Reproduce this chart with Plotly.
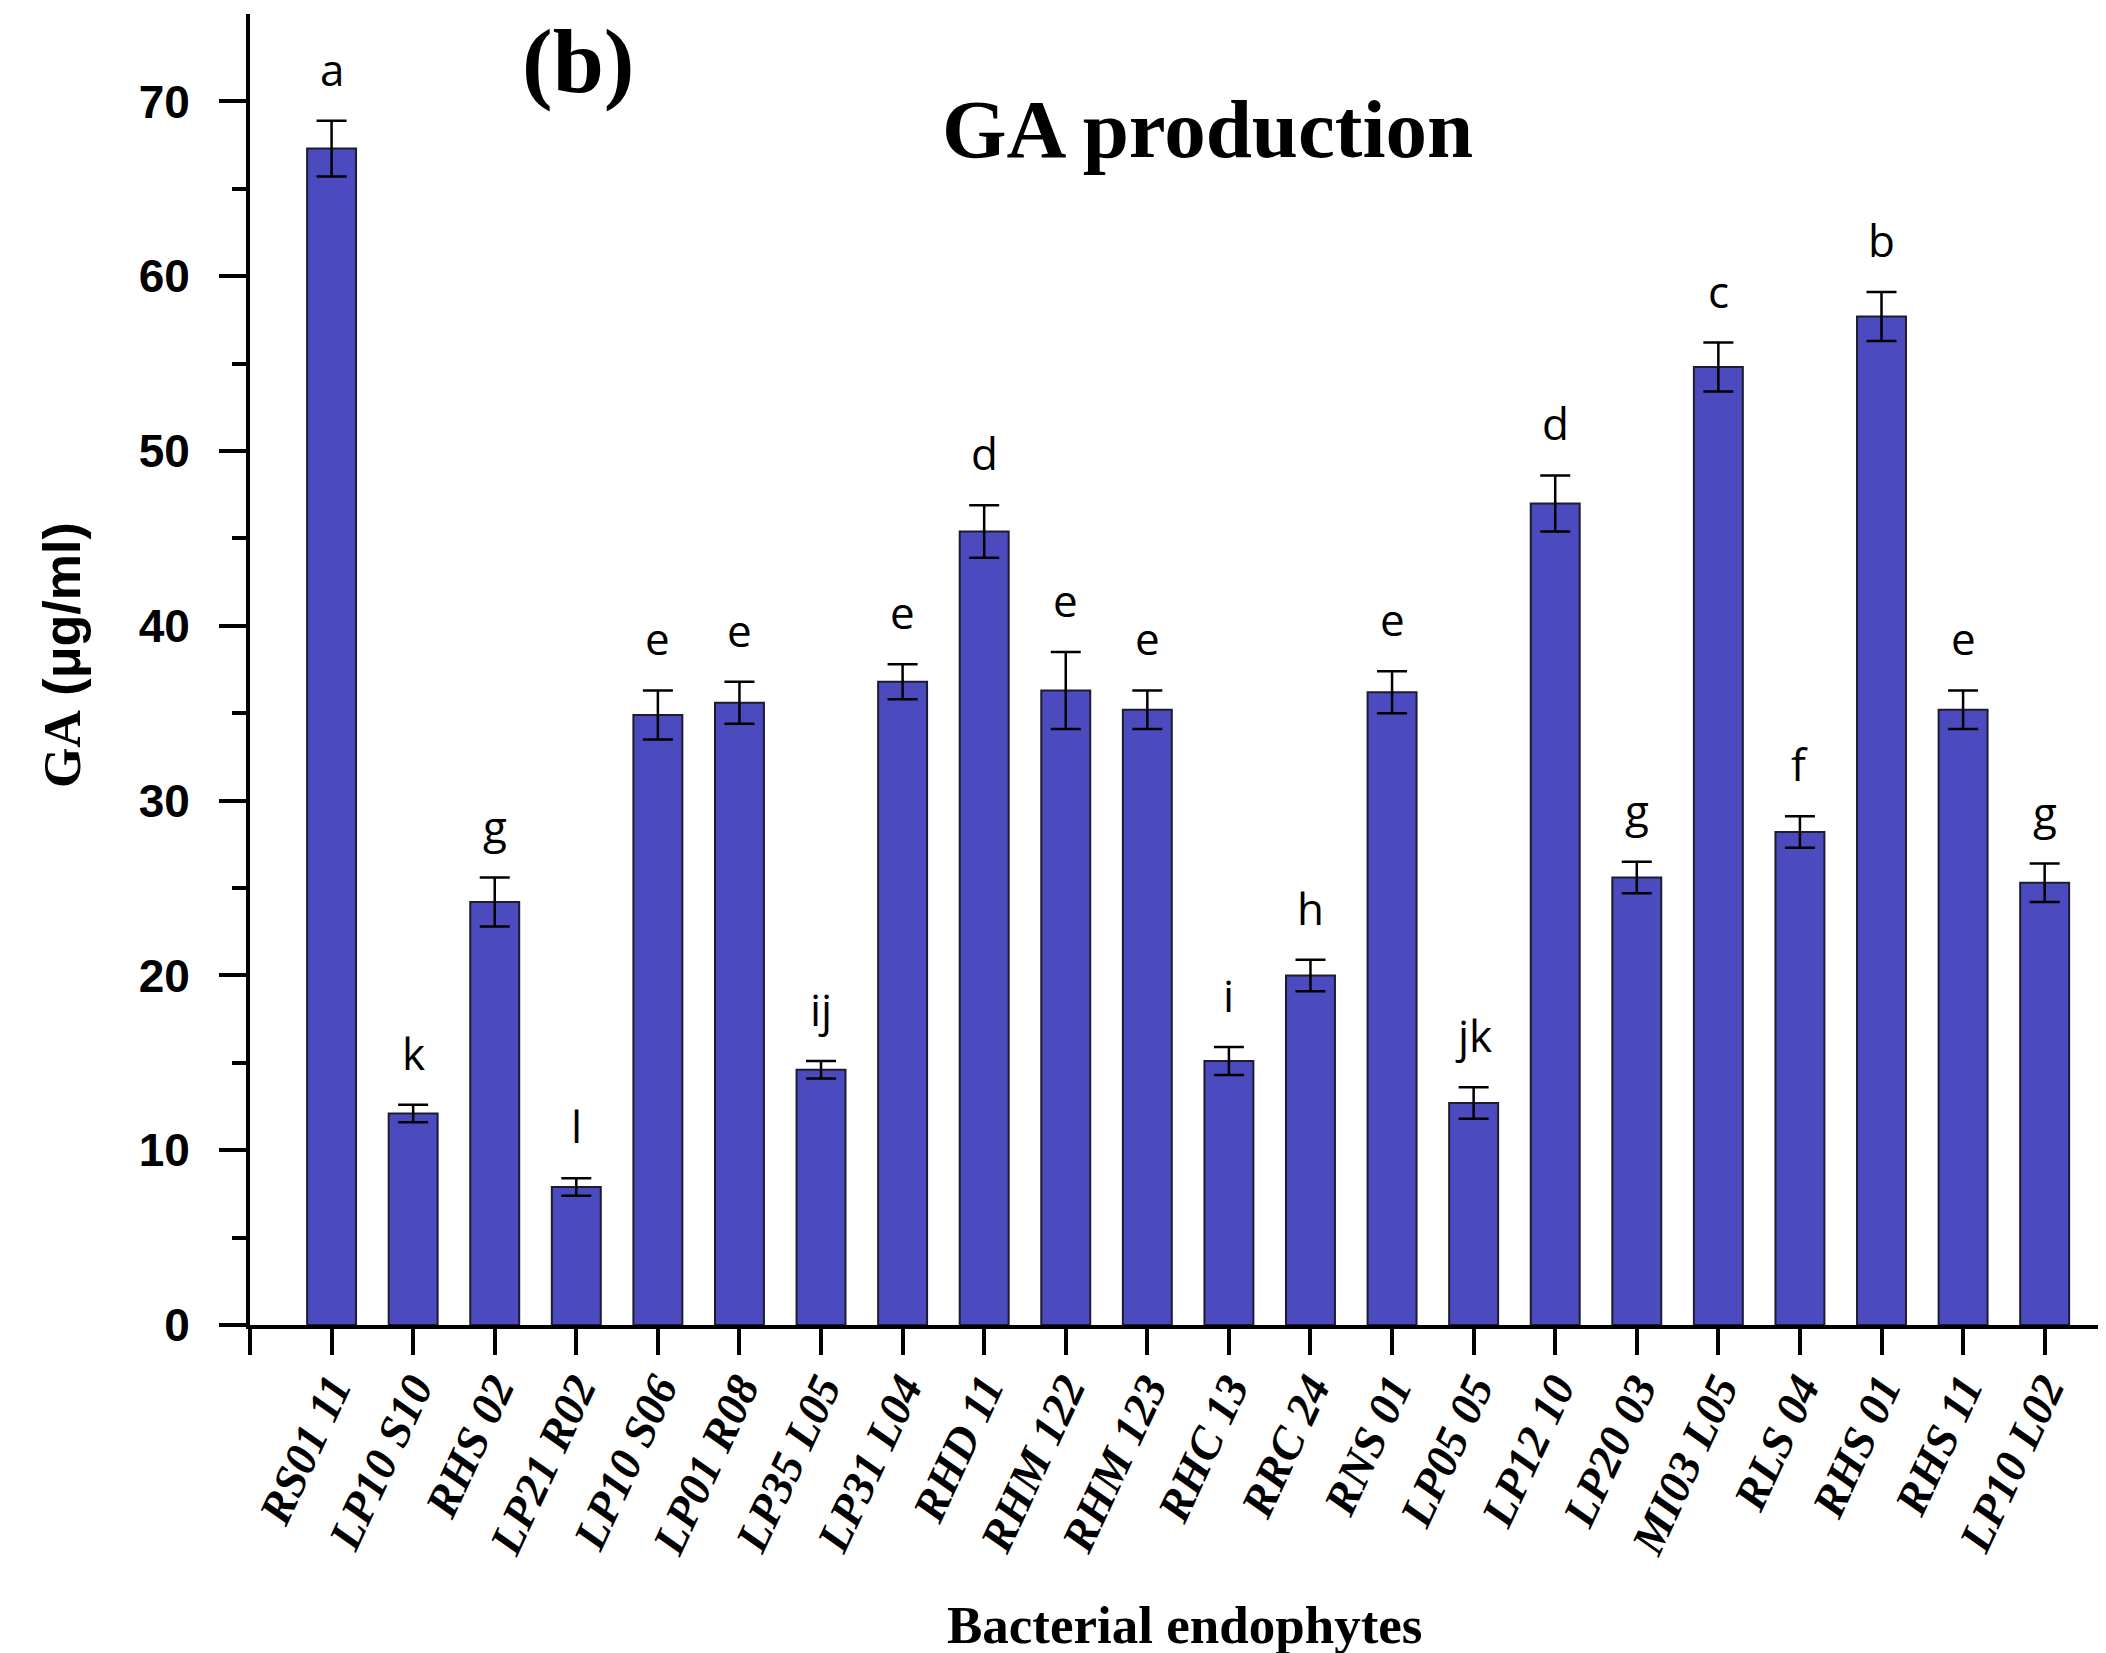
# GA production by bacterial endophytes, bar chart with SD error bars and significance letters.

import plotly.graph_objects as go

# strain names on the x axis
strains = ['RS01 11', 'LP10 S10', 'RHS 02', 'LP21 R02', 'LP10 S06', 'LP01 R08',
           'LP35 L05', 'LP31 L04', 'RHD 11', 'RHM 122', 'RHM 123', 'RHC 13',
           'RRC 24', 'RNS 01', 'LP05 05', 'LP12 10', 'LP20 03', 'MI03 L05',
           'RLS 04', 'RHS 01', 'RHS 11', 'LP10 L02']

# GA concentration (ug/ml) and error values
ga_values = [67.3, 12.1, 24.2, 7.9, 34.9, 35.6, 14.6, 36.8, 45.4, 36.3, 35.2,
             15.1, 20.0, 36.2, 12.7, 47.0, 25.6, 54.8, 28.2, 57.7, 35.2, 25.3]
ga_errors = [1.6, 0.5, 1.4, 0.5, 1.4, 1.2, 0.5, 1.0, 1.5, 2.2, 1.1,
             0.8, 0.9, 1.2, 0.9, 1.6, 0.9, 1.4, 0.9, 1.4, 1.1, 1.1]

# significance letters above each bar
sig_letters = ['a', 'k', 'g', 'l', 'e', 'e', 'ij', 'e', 'd', 'e', 'e', 'i',
               'h', 'e', 'jk', 'd', 'g', 'c', 'f', 'b', 'e', 'g']

x_pos = list(range(len(strains)))

fig = go.Figure()

fig.add_trace(go.Bar(
    x=x_pos, y=ga_values, width=0.6,
    marker=dict(color='#4B4BBF', line=dict(color='#1c1c2e', width=2)),
    error_y=dict(type='data', array=ga_errors, visible=True,
                 color='black', thickness=2.5, width=15),
))

# letters above the error bars
for xi, v, e, letter in zip(x_pos, ga_values, ga_errors, sig_letters):
    fig.add_annotation(x=xi, y=v + e, text=letter, showarrow=False,
                       xanchor='center', yanchor='bottom', yshift=20,
                       font=dict(family='Open Sans', size=44, color='black'))

# titles and panel label
fig.add_annotation(xref='paper', yref='paper', x=0.5135, y=0.912,
                   text='<b>GA production</b>', showarrow=False,
                   xanchor='center', yanchor='middle',
                   font=dict(family='Liberation Serif', size=83, color='black'))
fig.add_annotation(xref='paper', yref='paper', x=0.176, y=1.0045,
                   text='<b>(b)</b>', showarrow=False,
                   xanchor='center', yanchor='top',
                   font=dict(family='Liberation Serif', size=92, color='black'))
fig.add_annotation(xref='paper', yref='paper', x=0.5016, y=-0.229,
                   text='<b>Bacterial endophytes</b>', showarrow=False,
                   xanchor='center', yanchor='middle',
                   font=dict(family='Liberation Serif', size=53, color='black'))
fig.add_annotation(xref='paper', yref='paper', x=0, y=0.511, xshift=-188,
                   text="<b><span style='font-family:Liberation Serif'>GA</span> (μg/ml)</b>",
                   showarrow=False, textangle=-90,
                   xanchor='center', yanchor='middle',
                   font=dict(family='Liberation Sans', size=52, color='black'))

fig.update_xaxes(
    range=[-1, 21.85], tickmode='array',
    tickvals=[-1] + x_pos, ticktext=[''] + [f'<b><i>{s}</i></b>' for s in strains],
    tickangle=-65, ticks='outside', ticklen=26, tickwidth=4, tickcolor='black',
    ticklabelstandoff=-12,
    tickfont=dict(family='Liberation Serif', size=46, color='black'),
    showline=True, linewidth=4, linecolor='black', showgrid=False, zeroline=False,
)
fig.update_yaxes(
    range=[0, 75], tickmode='array', tickvals=[0, 10, 20, 30, 40, 50, 60, 70],
    ticktext=[f'<b>{t}</b>' for t in [0, 10, 20, 30, 40, 50, 60, 70]],
    ticks='outside', ticklen=27, tickwidth=4, tickcolor='black',
    ticklabelstandoff=20,
    tickfont=dict(family='Liberation Sans', size=46, color='black'),
    minor=dict(tickvals=[5, 15, 25, 35, 45, 55, 65], ticks='outside',
               ticklen=14, tickwidth=4, tickcolor='black'),
    showline=True, linewidth=4, linecolor='black', showgrid=False, zeroline=False,
)

fig.update_layout(
    width=2106, height=1653,
    margin=dict(l=242, r=0, t=6, b=336),
    plot_bgcolor='white', paper_bgcolor='white',
    showlegend=False, bargap=0.4,
)

fig.write_html("out.html")
